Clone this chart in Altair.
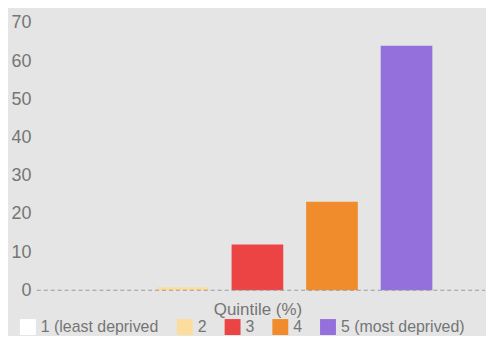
import altair as alt
import pandas as pd

quintiles = ["1 (least deprived", "2", "3", "4", "5 (most deprived)"]
values = [0.0, 0.8, 12.0, 23.2, 64.0]
colors = ["#ffffff", "#fddd9c", "#ec4444", "#f08c2c", "#9370db"]
y_ticks = [0, 10, 20, 30, 40, 50, 60, 70]

df = pd.DataFrame({"Quintile": quintiles, "Value": values})

W, H = 444, 269
grey = "#757575"
font = "Liberation Sans"

y_axis = alt.Axis(values=y_ticks, ticks=False, domain=False, grid=False,
                  title=None, labelFont=font, labelFontSize=18,
                  labelColor=grey, labelPadding=6, labelOverlap=False)
y_scale = alt.Scale(domain=[0, 70], nice=False)

bars = alt.Chart(df).mark_bar().encode(
    x=alt.X("Quintile:N", sort=quintiles,
            scale=alt.Scale(paddingInner=0.307, paddingOuter=0.613),
            axis=alt.Axis(labels=False, ticks=False, domain=False, grid=False,
                          title="Quintile (%)", titleFont=font, titleFontSize=17,
                          titleFontWeight="normal", titleColor=grey, titlePadding=11)),
    y=alt.Y("Value:Q", scale=y_scale, axis=y_axis),
    color=alt.Color("Quintile:N", sort=quintiles,
                    scale=alt.Scale(domain=quintiles, range=colors),
                    legend=alt.Legend(title=None, orient="none", direction="horizontal",
                                      legendX=-17, legendY=298,
                                      symbolType="square", symbolSize=256,
                                      symbolStrokeWidth=0, symbolOpacity=1,
                                      labelFont=font, labelFontSize=16, labelColor=grey,
                                      labelLimit=220, columnPadding=18, labelOffset=5)),
)

zero = alt.Chart(pd.DataFrame({"Value": [0]})).mark_rule(
    color="#9a9a9a", strokeDash=[4, 3], strokeWidth=1
).encode(
    y=alt.Y("Value:Q", scale=y_scale, axis=y_axis),
    x=alt.value(0),
    x2=alt.value(451),
)

chart = alt.layer(bars, zero).properties(
    width=W, height=H, background="#e4e5e4",
    padding={"left": 2, "top": 5, "right": 0, "bottom": 0},
).configure_view(stroke=None)

chart.save("out.html", embed_options={"renderer": "svg", "actions": False})
